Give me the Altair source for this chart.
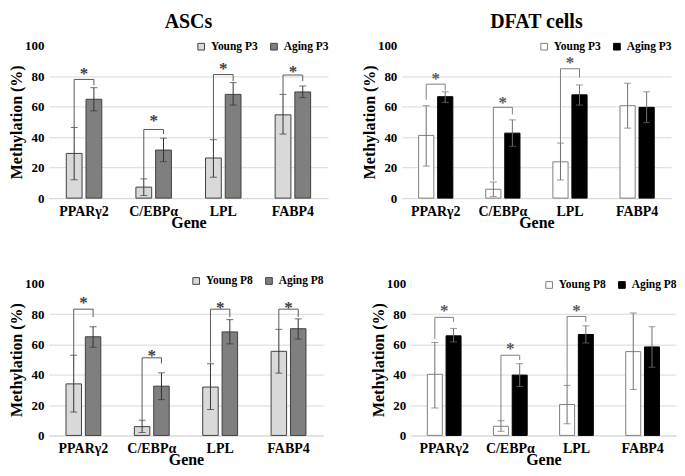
import altair as alt
import pandas as pd

SERIF = "Liberation Serif"

genes = ["PPARγ2", "C/EBPα", "LPL", "FABP4"]

# ---- ASCs, passage 3 ----
asc3_labels = ["Young P3", "Aging P3"]
asc3_young = [29.3, 7.2, 26.3, 54.6]
asc3_young_lo = [12.0, 1.7, 13.7, 42.0]
asc3_young_hi = [46.3, 12.6, 38.3, 68.0]
asc3_aging = [64.8, 31.5, 68.0, 69.6]
asc3_aging_lo = [57.2, 23.9, 61.0, 65.9]
asc3_aging_hi = [72.4, 39.3, 75.7, 73.5]
asc3_sig = [True, True, True, True]
asc3_br_left = [46.3, 12.6, 38.3, 68.0]
asc3_br_top = [77.8, 45.0, 81.0, 80.7]
asc3_br_right = [74.0, 42.0, 76.7, 76.7]
asc3_star = [84.0, 53.0, 87.0, 85.4]

# ---- DFAT cells, passage 3 ----
dfat3_labels = ["Young P3", "Aging P3"]
dfat3_young = [41.1, 5.8, 23.8, 60.6]
dfat3_young_lo = [21.0, 1.0, 11.9, 45.9]
dfat3_young_hi = [60.6, 10.6, 36.1, 75.3]
dfat3_aging = [66.5, 42.6, 67.7, 59.5]
dfat3_aging_lo = [62.8, 34.0, 61.0, 49.5]
dfat3_aging_hi = [69.7, 51.3, 74.2, 69.7]
dfat3_sig = [True, True, True, False]
dfat3_br_left = [64.5, 11.5, 35.7, 0]
dfat3_br_top = [74.7, 59.5, 84.8, 0]
dfat3_br_right = [70.5, 54.8, 79.0, 0]
dfat3_star = [81.0, 65.0, 91.0, 0]

# ---- ASCs, passage 8 ----
asc8_labels = ["Young P8", "Aging P8"]
asc8_young = [34.0, 5.8, 31.9, 55.5]
asc8_young_lo = [15.4, 1.9, 17.1, 41.1]
asc8_young_hi = [52.9, 10.0, 47.3, 70.0]
asc8_aging = [65.1, 32.5, 68.3, 70.4]
asc8_aging_lo = [58.2, 23.6, 60.4, 63.6]
asc8_aging_hi = [71.7, 41.3, 76.4, 76.9]
asc8_sig = [True, True, True, True]
asc8_br_left = [52.9, 10.0, 48.0, 70.0]
asc8_br_top = [83.3, 51.2, 83.3, 83.3]
asc8_br_right = [78.2, 47.5, 78.0, 78.2]
asc8_star = [89.7, 55.0, 87.0, 87.0]

# ---- DFAT cells, passage 8 ----
dfat8_labels = ["Young P8", "Aging P8"]
dfat8_young = [40.3, 6.0, 20.4, 55.3]
dfat8_young_lo = [18.1, 2.7, 7.7, 30.3]
dfat8_young_hi = [61.3, 9.7, 33.0, 80.8]
dfat8_aging = [65.7, 39.8, 66.6, 58.4]
dfat8_aging_lo = [61.7, 32.3, 61.0, 45.0]
dfat8_aging_hi = [70.6, 47.3, 72.3, 71.7]
dfat8_sig = [True, True, True, False]
dfat8_br_left = [63.5, 9.7, 33.0, 0]
dfat8_br_top = [77.9, 52.9, 78.5, 0]
dfat8_br_right = [75.0, 49.8, 75.0, 0]
dfat8_star = [84.5, 59.5, 84.5, 0]

ASC_STYLE = dict(fills=["#d9d9d9", "#7f7f7f"], strokes=["#404040", "#404040"],
                 err=["#333333", "#333333"], bracket="#595959", star="#404040")
DFAT_STYLE = dict(fills=["#ffffff", "#000000"], strokes=["#7f7f7f", "#000000"],
                  err=["#6f6f6f", "#6f6f6f"], bracket="#7f7f7f", star="#595959")


def panel(title, labels, young, ylo, yhi, aging, alo, ahi, sig, brl, brt, brr, star,
          style, w, h, lx, ly, lfs, lcp):
    ylab, alab = labels
    bars = pd.DataFrame({
        "Gene": genes + genes,
        "Group": [ylab] * 4 + [alab] * 4,
        "Value": young + aging,
        "Lo": ylo + alo,
        "Hi": yhi + ahi,
    })
    br_rows, st_rows = [], []
    for i, g in enumerate(genes):
        if sig[i]:
            br_rows += [
                {"Gene": g, "Group": ylab, "Value": brl[i], "Step": 0},
                {"Gene": g, "Group": ylab, "Value": brt[i], "Step": 1},
                {"Gene": g, "Group": alab, "Value": brt[i], "Step": 2},
                {"Gene": g, "Group": alab, "Value": brr[i], "Step": 3},
            ]
            st_rows.append({"Gene": g, "Value": star[i]})
    brackets = pd.DataFrame(br_rows)
    stars = pd.DataFrame(st_rows)

    xaxis = alt.Axis(title="Gene", labelAngle=0, labelFont=SERIF, labelFontWeight="bold",
                     labelFontSize=14, labelColor="black", labelPadding=6, ticks=False,
                     domainColor="#d9d9d9", domainWidth=1, grid=False,
                     titleFont=SERIF, titleFontWeight="bold", titleFontSize=16,
                     titleColor="black", titlePadding=-4)
    yaxis = alt.Axis(title="Methylation (%)", values=[0, 20, 40, 60, 80, 100], domain=False,
                     ticks=False, grid=True, gridColor="#d9d9d9",
                     gridOpacity={"condition": {"test": "datum.value >= 100", "value": 0}, "value": 1},
                     labelFont=SERIF, labelFontWeight="bold", labelFontSize=13,
                     labelColor="black", labelPadding=5,
                     titleFont=SERIF, titleFontWeight="bold", titleFontSize=16,
                     titleColor="black", titlePadding=0)
    xs = alt.Scale(paddingInner=0.49, paddingOuter=0.25)
    ys = alt.Scale(domain=[0, 100], nice=False)
    X = alt.X("Gene:N", sort=genes, scale=xs, axis=xaxis)
    XO = alt.XOffset("Group:N", sort=labels, scale=alt.Scale(domain=labels, paddingInner=0.2))

    def Y(f):
        return alt.Y(f"{f}:Q", scale=ys, axis=yaxis)

    legend = alt.Legend(title=None, orient="none", legendX=lx, legendY=ly, direction="horizontal",
                        symbolType="square", symbolSize=45, symbolStrokeWidth=1,
                        labelFont=SERIF, labelFontWeight="bold", labelFontSize=lfs,
                        labelColor="black", labelOffset=4, columnPadding=lcp, padding=0)

    bar = alt.Chart(bars).mark_bar(strokeWidth=1).encode(
        x=X, xOffset=XO, y=Y("Value"),
        fill=alt.Fill("Group:N", sort=labels, scale=alt.Scale(domain=labels, range=style["fills"]), legend=legend),
        stroke=alt.Stroke("Group:N", sort=labels, scale=alt.Scale(domain=labels, range=style["strokes"]), legend=legend),
    )
    errcol = alt.condition(alt.datum.Group == ylab, alt.value(style["err"][0]), alt.value(style["err"][1]))
    err = alt.Chart(bars).mark_rule(strokeWidth=1).encode(
        x=X, xOffset=XO, y=Y("Lo"), y2="Hi", color=errcol)
    cap_hi = alt.Chart(bars).mark_tick(thickness=1, size=7).encode(
        x=X, xOffset=XO, y=Y("Hi"), color=errcol)
    cap_lo = alt.Chart(bars).mark_tick(thickness=1, size=7).encode(
        x=X, xOffset=XO, y=Y("Lo"), color=errcol)
    br = alt.Chart(brackets).mark_line(strokeWidth=1, color=style["bracket"]).encode(
        x=X, xOffset=XO, y=Y("Value"), detail="Gene:N", order="Step:Q")
    st = alt.Chart(stars).mark_text(text="*", font=SERIF, fontSize=17, fontWeight="bold",
                                    color=style["star"], baseline="middle", dy=4).encode(
        x=X, y=Y("Value"))

    ch = alt.layer(bar, err, cap_hi, cap_lo, br, st).properties(width=w, height=h)
    if title:
        ch = ch.properties(title=alt.TitleParams(title, font=SERIF, fontSize=20, fontWeight="bold",
                                                 color="black", anchor="middle", offset=8))
    return ch


p1 = panel("ASCs", asc3_labels, asc3_young, asc3_young_lo, asc3_young_hi, asc3_aging, asc3_aging_lo,
           asc3_aging_hi, asc3_sig, asc3_br_left, asc3_br_top, asc3_br_right, asc3_star,
           ASC_STYLE, 280, 153, 147, -5, 11.5, 10)
p2 = panel("DFAT cells", dfat3_labels, dfat3_young, dfat3_young_lo, dfat3_young_hi, dfat3_aging,
           dfat3_aging_lo, dfat3_aging_hi, dfat3_sig, dfat3_br_left, dfat3_br_top, dfat3_br_right,
           dfat3_star, DFAT_STYLE, 270, 153, 137, -5, 11.5, 10)
p3 = panel(None, asc8_labels, asc8_young, asc8_young_lo, asc8_young_hi, asc8_aging, asc8_aging_lo,
           asc8_aging_hi, asc8_sig, asc8_br_left, asc8_br_top, asc8_br_right, asc8_star,
           ASC_STYLE, 275, 152, 142, -9, 11.5, 10)
p4 = panel(None, dfat8_labels, dfat8_young, dfat8_young_lo, dfat8_young_hi, dfat8_aging,
           dfat8_aging_lo, dfat8_aging_hi, dfat8_sig, dfat8_br_left, dfat8_br_top, dfat8_br_right,
           dfat8_star, DFAT_STYLE, 266, 152, 133, -5, 11.5, 10)

res = dict(x="independent", y="independent", fill="independent", stroke="independent",
           color="independent", xOffset="independent")
top = alt.hconcat(p1, p2, spacing=32).resolve_scale(**res).resolve_legend(fill="independent", stroke="independent")
bottom = alt.hconcat(p3, p4, spacing=46).resolve_scale(**res).resolve_legend(fill="independent", stroke="independent")
chart = alt.vconcat(top, bottom, spacing=45).resolve_scale(**res).resolve_legend(
    fill="independent", stroke="independent").configure_view(stroke=None).configure_legend(
    labelFont=SERIF, labelFontWeight="bold", labelColor="black").properties(
    padding={"left": 0, "top": 3, "right": 0, "bottom": 0}, background="white")

chart.save("out.html", embed_options={"renderer": "svg", "actions": False})
